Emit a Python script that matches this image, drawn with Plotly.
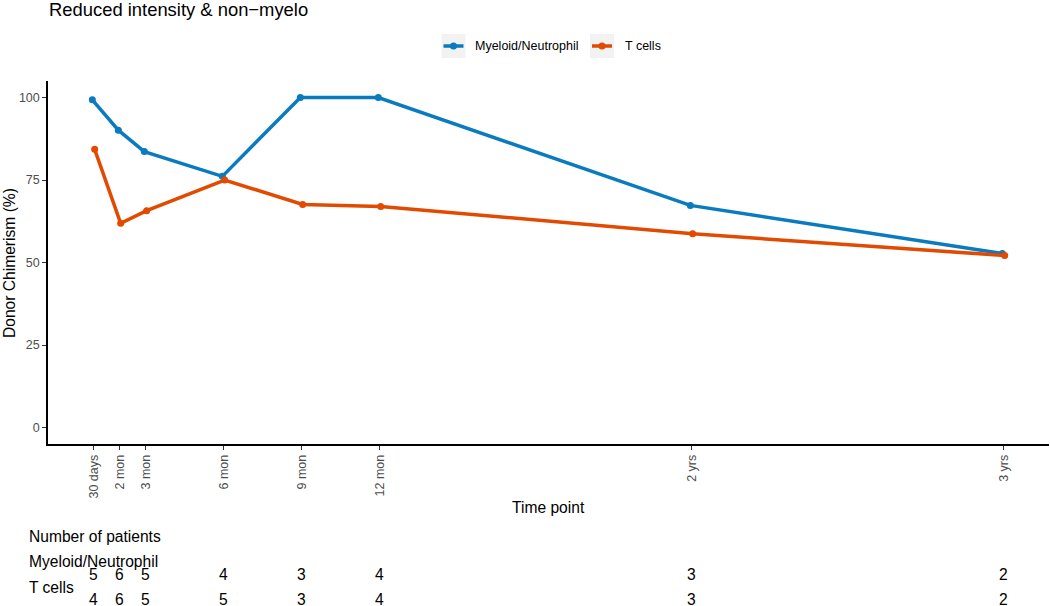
import plotly.graph_objects as go

# ---- data ----
months = [1, 2, 3, 6, 9, 12, 24, 36]
tick_labels = ["30 days", "2 mon", "3 mon", "6 mon", "9 mon", "12 mon", "2 yrs", "3 yrs"]
myeloid = [99.3, 90.1, 83.6, 76.1, 100.0, 100.0, 67.3, 52.7]
tcells = [84.3, 61.9, 65.7, 75.0, 67.6, 67.0, 58.7, 52.1]
n_myeloid = [5, 6, 5, 4, 3, 4, 3, 2]
n_tcells = [4, 6, 5, 5, 3, 4, 3, 2]
series_names = ["Myeloid/Neutrophil", "T cells"]

# ---- style ----
W, H = 1050, 606
ML, MR, MT, MB = 48, 1, 81, 162
BLUE = "#0A7BBE"
RED = "#E14A00"
FONT = "Liberation Sans, Arial, sans-serif"
DODGE = 0.045
BASE = 15.6
SMALL = 12.5
plot_h = H - MT - MB
plot_w = W - ML - MR


def py2paper(py):
    return (H - MB - py) / plot_h


def px2paper(px):
    return (px - ML) / plot_w


fig = go.Figure()
for name, vals, col, dx in [(series_names[0], myeloid, BLUE, -DODGE),
                            (series_names[1], tcells, RED, DODGE)]:
    fig.add_trace(go.Scatter(
        x=[m + dx for m in months], y=vals, mode="lines+markers", name=name,
        line=dict(color=col, width=3.5), marker=dict(color=col, size=7),
        showlegend=False, cliponaxis=False))

fig.update_layout(
    width=W, height=H,
    margin=dict(l=ML, r=MR, t=MT, b=MB),
    paper_bgcolor="white", plot_bgcolor="white",
    font=dict(family=FONT, color="black"),
    xaxis=dict(range=[-0.75, 37.75], tickvals=months, ticktext=tick_labels,
               tickangle=-90, showgrid=False, zeroline=False,
               showline=True, linecolor="black", linewidth=1.5,
               ticks="outside", ticklen=4, tickcolor="#333333", tickwidth=1,
               tickfont=dict(size=SMALL, color="#4D4D4D", family=FONT)),
    yaxis=dict(range=[-5, 105], tickvals=[0, 25, 50, 75, 100],
               showgrid=False, zeroline=False,
               showline=True, linecolor="black", linewidth=1.5,
               ticks="outside", ticklen=4, tickcolor="#333333", tickwidth=1,
               tickfont=dict(size=SMALL, color="#4D4D4D", family=FONT)),
)

ann = []
# title
ann.append(dict(text="Reduced intensity & non\u2212myelo", xref="paper", yref="paper",
                x=px2paper(47), y=py2paper(10), xanchor="left", yanchor="middle",
                showarrow=False, font=dict(size=18.4, color="black")))
# axis titles
ann.append(dict(text="Time point", xref="paper", yref="paper",
                x=px2paper(548), y=py2paper(507), xanchor="center", yanchor="middle",
                showarrow=False, font=dict(size=BASE, color="black")))
ann.append(dict(text="Donor Chimerism (%)", xref="paper", yref="paper",
                x=px2paper(9), y=py2paper(263), xanchor="center", yanchor="middle",
                textangle=-90, showarrow=False, font=dict(size=BASE, color="black")))
# table labels
for txt, yy in [("Number of patients", 536), (series_names[0], 561), (series_names[1], 587)]:
    ann.append(dict(text=txt, xref="paper", yref="paper", x=px2paper(27), y=py2paper(yy),
                    xanchor="left", yanchor="middle", showarrow=False,
                    font=dict(size=BASE, color="black")))
for counts, yy in [(n_myeloid, 574), (n_tcells, 599)]:
    for m, c in zip(months, counts):
        ann.append(dict(text=str(c), xref="x", yref="paper", x=m, y=py2paper(yy),
                        xanchor="center", yanchor="middle", showarrow=False,
                        font=dict(size=BASE, color="black")))

# custom legend
shapes = []
legend_items = [(series_names[0], BLUE, 441.5, 473), (series_names[1], RED, 590, 622.5)]
for name, col, bx, tx in legend_items:
    shapes.append(dict(type="rect", xref="paper", yref="paper",
                       x0=px2paper(bx), x1=px2paper(bx + 24),
                       y0=py2paper(58), y1=py2paper(34),
                       fillcolor="#F2F2F2", line=dict(width=0), layer="below"))
    shapes.append(dict(type="line", xref="paper", yref="paper",
                       x0=px2paper(bx + 2), x1=px2paper(bx + 22),
                       y0=py2paper(46), y1=py2paper(46),
                       line=dict(color=col, width=3.5)))
    shapes.append(dict(type="circle", xref="paper", yref="paper",
                       x0=px2paper(bx + 12 - 3.5), x1=px2paper(bx + 12 + 3.5),
                       y0=py2paper(46 + 3.5), y1=py2paper(46 - 3.5),
                       fillcolor=col, line=dict(width=0)))
    ann.append(dict(text=name, xref="paper", yref="paper", x=px2paper(tx), y=py2paper(46),
                    xanchor="left", yanchor="middle", showarrow=False,
                    font=dict(size=SMALL, color="black")))

fig.update_layout(annotations=ann, shapes=shapes)
fig.write_html("out.html", config={"displayModeBar": False},
               post_script="document.body.style.margin='0';document.body.style.overflow='hidden';")
